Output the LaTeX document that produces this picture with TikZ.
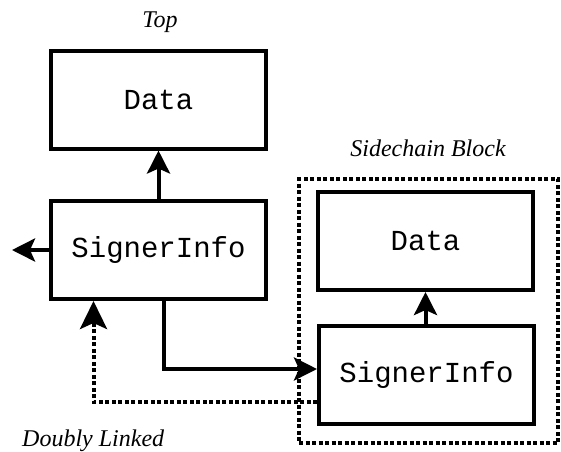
\documentclass[tikz,border=0pt]{standalone}
\usepackage{fontspec}
\setmainfont{Liberation Serif}
\setmonofont{Liberation Mono}
\usetikzlibrary{arrows.meta}
\begin{document}
\begin{tikzpicture}[x=1pt,y=-1pt,
  box/.style={draw,line width=4pt,rectangle,minimum width=215pt,minimum height=98pt,inner sep=0pt,
    font=\fontsize{29}{32}\selectfont\ttfamily},
  tip/.style={-{Stealth[length=23pt,width=23pt,inset=5pt]}},
  arr/.style={line width=4pt,tip},
  dots/.style={line width=4pt,dash pattern=on 4pt off 2.5pt},
  dotarr/.style={dots,-{Stealth[length=28pt,width=27pt,inset=6pt]}},
  lbl/.style={font=\fontsize{24}{28}\selectfont\itshape,inner sep=0pt}]
\useasboundingbox (0,0) rectangle (561,451);
\node[box] (d1) at (158.5,99.5) {Data};
\node[box] (si1) at (158.5,250) {SignerInfo};
\node[box] (d2) at (425.5,241) {Data};
\node[box] (si2) at (426.5,375) {SignerInfo};
\node[draw,dots,rectangle,minimum width=259pt,minimum height=264pt,inner sep=0pt] (blk) at (428.5,311) {};
\node[lbl] (ltop) at (160,22) {Top};
\node[lbl] (lside) at (428,148) {Sidechain Block};
\node[lbl,anchor=west] (ldl) at (22,441) {Doubly Linked};
\coordinate (lft) at (12,250);
\draw[arr] (si1.north) -- (d1.south);
\draw[arr] (si1.west) -- (lft);
\draw[arr] (si2.north -| d2.south) -- (d2.south);
\draw[arr] ([xshift=5pt]si1.south) |- ([yshift=6pt]si2.west);
\draw[dotarr] ([yshift=-27pt]si2.west) -| ([xshift=-65pt]si1.south);
\end{tikzpicture}
\end{document}
